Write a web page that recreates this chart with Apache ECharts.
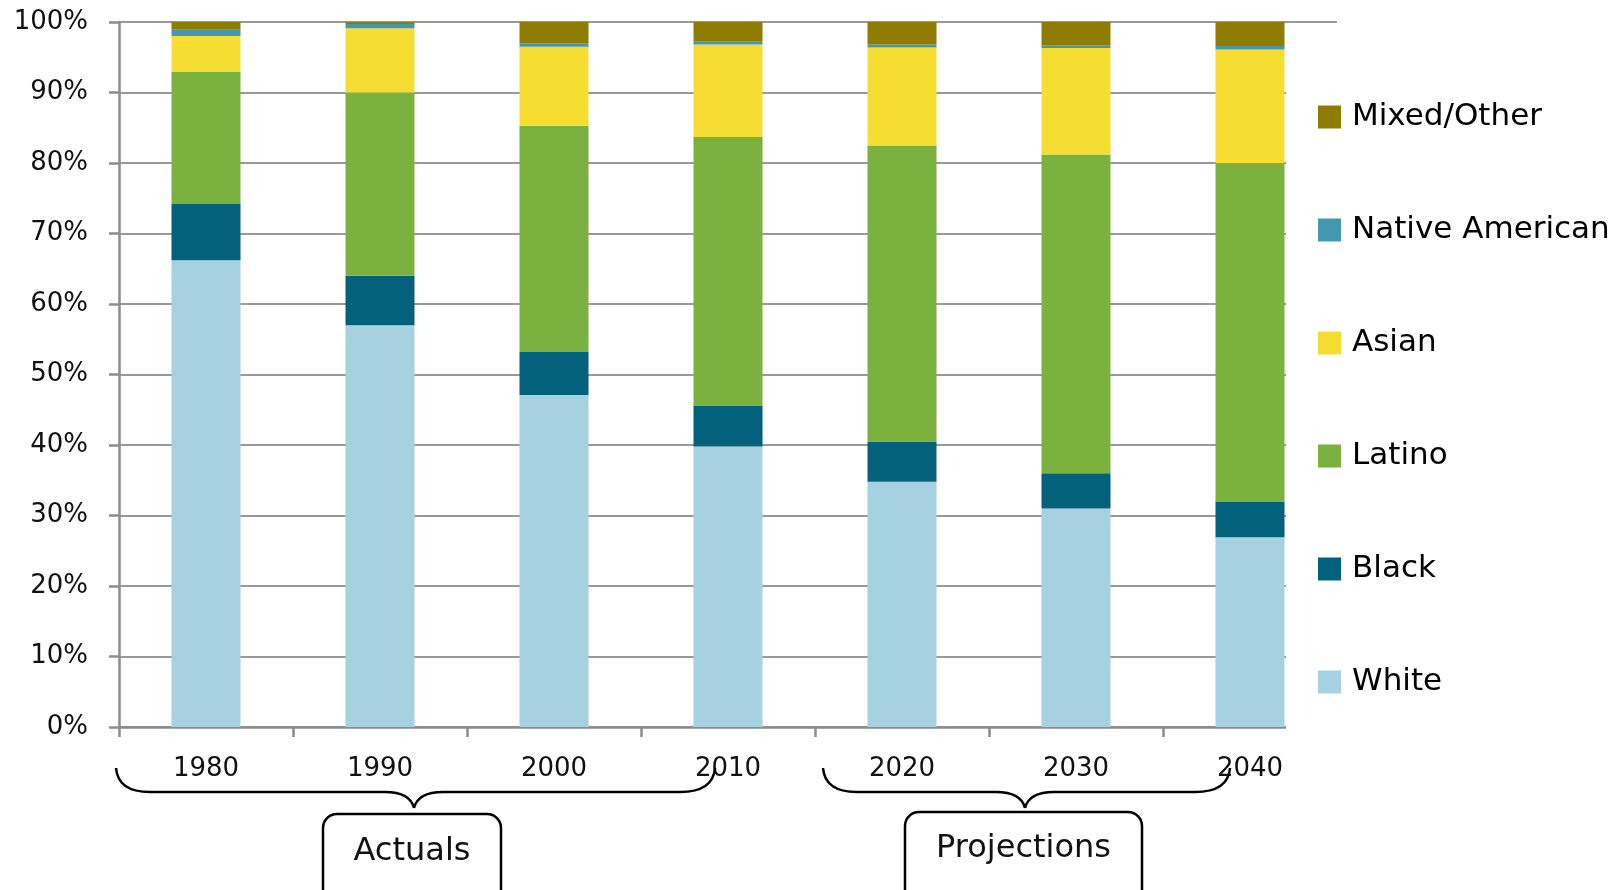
<!DOCTYPE html>
<html>
<head>
<meta charset="utf-8">
<script src="https://cdn.jsdelivr.net/npm/echarts@6/dist/echarts.min.js"></script>
<style>
  html, body { margin: 0; padding: 0; background: #fff; }
  #chart { width: 1624px; height: 890px; }
</style>
</head>
<body>
<div id="chart"></div>
<script>
// years on the x axis
const years = ["1980", "1990", "2000", "2010", "2020", "2030", "2040"];

// share of population, percent
const white  = [66.2, 57.0, 47.1, 39.8, 34.8, 31.0, 26.9];
const black  = [8.0, 7.0, 6.1, 5.8, 5.7, 5.0, 5.0];
const latino = [18.7, 26.0, 32.1, 38.1, 42.0, 45.2, 48.1];
const asian  = [5.1, 9.1, 11.2, 13.1, 13.9, 15.1, 16.1];
const native = [0.9, 0.6, 0.5, 0.4, 0.4, 0.4, 0.5];
const mixed  = [1.1, 0.3, 3.0, 2.8, 3.2, 3.3, 3.4];

// legend goes top to bottom
const legendOrder = ["Mixed/Other", "Native American", "Asian", "Latino", "Black", "White"];

const font = "DejaVu Sans";
const axisGray = "#8c8c8c";

const chart = echarts.init(document.getElementById("chart"));

function bar(name, data, color) {
  return {
    name: name,
    type: "bar",
    stack: "total",
    barWidth: 69,
    data: data,
    itemStyle: { color: color },
  };
}

// curly brace opening downwards: from x0 to x1, tip at xm
function brace(x0, xm, x1) {
  const yTop = 768, yLine = 792, yTip = 808;
  const st = { fill: "none", stroke: "#000", lineWidth: 2.5 };
  const curve = (a, b, c, d, e, f) => ({
    type: "bezierCurve", z: 5,
    shape: { x1: a, y1: b, cpx1: c, cpy1: d, x2: e, y2: f },
    style: st,
  });
  const line = (a, b) => ({
    type: "line", z: 5,
    shape: { x1: a, y1: yLine, x2: b, y2: yLine },
    style: st,
  });
  return [
    curve(x0, yTop, x0 + 2, yLine, x0 + 34, yLine),
    line(x0 + 34, xm - 29),
    curve(xm - 29, yLine, xm - 4, yLine, xm, yTip),
    curve(xm, yTip, xm + 4, yLine, xm + 29, yLine),
    line(xm + 29, x1 - 35),
    curve(x1 - 35, yLine, x1 - 2, yLine, x1, yTop),
  ];
}

function box(x, y, w, label, ty) {
  return [
    {
      type: "rect", z: 5,
      shape: { x: x, y: y, width: w, height: 100, r: 14 },
      style: { fill: "#fff", stroke: "#000", lineWidth: 2.5 },
    },
    {
      type: "text", z: 6,
      x: x + w / 2, y: ty,
      style: {
        text: label, fontFamily: font, fontSize: 32, fill: "#111",
        align: "center", verticalAlign: "middle",
      },
    },
  ];
}

const option = {
  animation: false,
  backgroundColor: "#fff",
  grid: {
    left: 119,
    right: 287,
    top: 22,
    bottom: 163,
  },
  xAxis: {
    type: "category",
    data: years,
    axisLine: { lineStyle: { color: axisGray, width: 2.5 } },
    axisTick: { show: true, length: 10, lineStyle: { color: axisGray, width: 2.5 } },
    axisLabel: {
      margin: 29,
      color: "#111",
      fontFamily: font,
      fontSize: 26,
    },
  },
  yAxis: {
    type: "value",
    min: 0,
    max: 100,
    interval: 10,
    axisLine: { show: true, lineStyle: { color: axisGray, width: 2.5 } },
    axisTick: { show: true, length: 10, lineStyle: { color: axisGray, width: 2.5 } },
    splitLine: { lineStyle: { color: "#999", width: 2.2 } },
    axisLabel: {
      margin: 31,
      color: "#111",
      fontFamily: font,
      fontSize: 26,
      formatter: "{value}%",
    },
  },
  legend: {
    data: legendOrder,
    orient: "vertical",
    left: 1313,
    top: 95,
    z: 10,
    itemWidth: 23,
    itemHeight: 23,
    itemGap: 79,
    icon: "rect",
    textStyle: {
      fontFamily: font,
      fontSize: 31,
      lineHeight: 34,
      color: "#000",
      padding: [0, 0, 0, 6],
    },
  },
  graphic: [
    // white panel behind the legend, hides the grid lines there
    {
      type: "rect",
      z: 3,
      shape: { x: 1286, y: 30, width: 340, height: 740 },
      style: { fill: "#fff" },
    },
    ...brace(116, 414, 715),
    ...brace(823, 1025, 1230),
    ...box(323, 814, 178, "Actuals", 852),
    ...box(905, 812, 237, "Projections", 849),
  ],
  series: [
    bar("White", white, "#a6d1e0"),
    bar("Black", black, "#03617b"),
    bar("Latino", latino, "#7bb13f"),
    bar("Asian", asian, "#f5dd32"),
    bar("Native American", native, "#4398b0"),
    bar("Mixed/Other", mixed, "#8e7c03"),
  ],
};

chart.setOption(option);
</script>
</body>
</html>
